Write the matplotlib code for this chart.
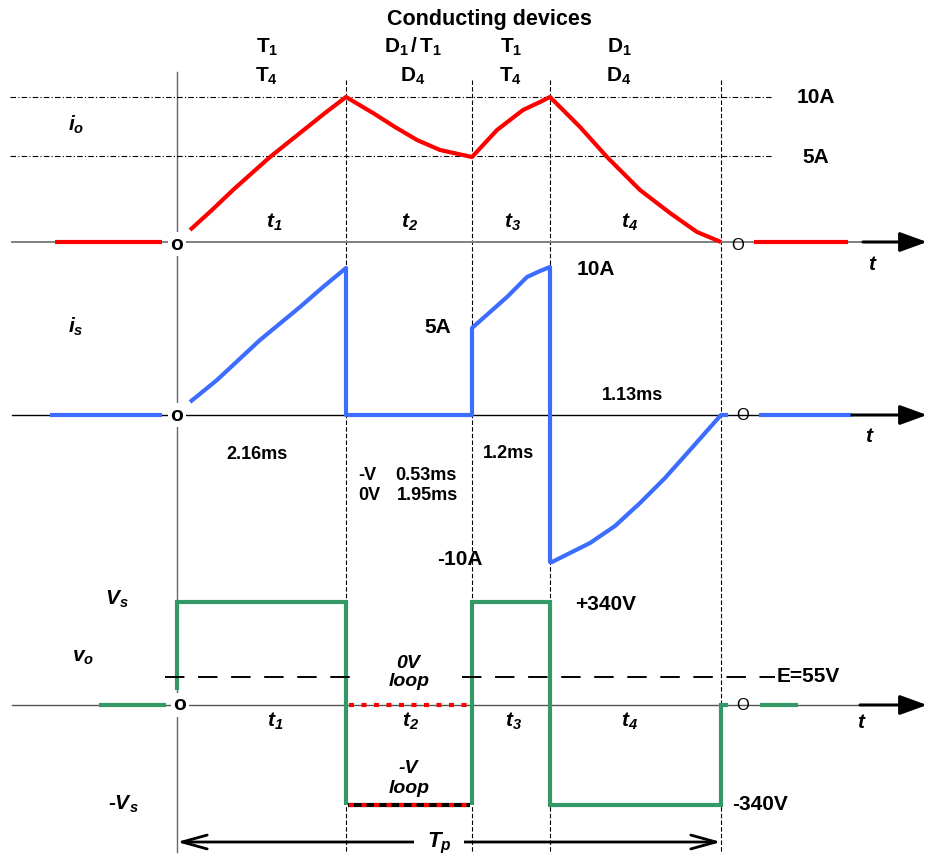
import matplotlib

matplotlib.use("Agg")
import matplotlib.pyplot as plt

plt.rcParams["font.family"] = ["Liberation Sans", "DejaVu Sans"]
plt.rcParams["mathtext.fontset"] = "custom"
plt.rcParams["mathtext.rm"] = "Liberation Sans"
plt.rcParams["mathtext.bf"] = "Liberation Sans:bold"
plt.rcParams["mathtext.it"] = "Liberation Sans:italic"
plt.rcParams["mathtext.bfit"] = "Liberation Sans:italic:bold"

# drawing is schematic: everything is in drawing units (x = time axis, y = down)
t_sw = [177, 346, 472, 550, 721]          # start, end of t1, t2, t3, t4
axis_y = {"io": 242, "is": 415, "vo": 705}
ref_io = [97, 156]                        # 10A and 5A reference levels

# output current io
io_x = [190, 212, 233, 252, 270, 300, 325, 346, 373, 395, 417, 440, 472,
        497, 523, 540, 550, 580, 607, 640, 670, 697, 721]
io_y = [230, 210, 190, 173, 157, 133, 113, 97, 113, 127, 140, 150, 157,
        130, 110, 102, 97, 127, 157, 190, 213, 232, 242]

# supply current is
is_x = [190, 217, 260, 300, 323, 346, 346, 472, 472, 507, 527, 540, 550,
        550, 552, 590, 615, 640, 665, 690, 721, 728]
is_y = [402, 380, 340, 307, 287, 268, 415, 415, 328, 297, 277, 271, 267,
        562, 562, 543, 526, 503, 478, 450, 415, 415]

# output voltage vo (+Vs = 602, -Vs = 805, 0 = 705)
vo_a_x = [177, 177, 346, 346]
vo_a_y = [690, 602, 602, 805]
vo_b_x = [472, 472, 550, 550, 721, 721, 728]
vo_b_y = [805, 602, 602, 805, 805, 705, 705]
loop_y = [705, 805]                        # 0V loop and -V loop during t2
e_level = 677                              # E = 55V

# zero-level lead-in / lead-out segments
lead = {"io": ([55, 162], [754, 848]), "is": ([50, 162], [759, 852]), "vo": ([99, 166], [760, 798])}

RED, BLUE, GREEN = "#ff0000", "#3d6dff", "#349966"

fig = plt.figure(figsize=(9.29, 8.56), dpi=100)
ax = fig.add_axes([0, 0, 1, 1])
ax.set_xlim(0, 929)
ax.set_ylim(856, 0)
ax.axis("off")

# time grid
ax.plot([t_sw[0], t_sw[0]], [72, 852], color="#666666", lw=1)
for x in t_sw[1:]:
    ax.plot([x, x], [80, 852], color="black", lw=0.8, ls=(0, (4, 2)))
for y in ref_io:
    ax.plot([10, 773], [y, y], color="black", lw=0.8, ls=(0, (5, 2, 1, 2)))

# time axes with arrows
axis_end = {"io": 863, "is": 852, "vo": 860}
axis_col = {"io": "#808080", "is": "black", "vo": "#555555"}
for key, y in axis_y.items():
    ax.plot([12, axis_end[key]], [y, y], color=axis_col[key], lw=1.4 if key == "io" else 1)
    ax.annotate("", xy=(927, y), xytext=(axis_end[key], y),
                arrowprops=dict(arrowstyle="-|>,head_length=1.1,head_width=0.4",
                                color="black", lw=2.2, mutation_scale=15,
                                shrinkA=0, shrinkB=0))

# waveforms
for key, col in (("io", RED), ("is", BLUE), ("vo", GREEN)):
    for seg in lead[key]:
        ax.plot(seg, [axis_y[key]] * 2, color=col, lw=3, solid_capstyle="butt")
ax.plot(io_x, io_y, color=RED, lw=3, solid_capstyle="butt", solid_joinstyle="round")
ax.plot(is_x, is_y, color=BLUE, lw=3, solid_capstyle="butt", solid_joinstyle="round")
ax.plot(vo_a_x, vo_a_y, color=GREEN, lw=3, solid_capstyle="butt", solid_joinstyle="miter")
ax.plot(vo_b_x, vo_b_y, color=GREEN, lw=3, solid_capstyle="butt", solid_joinstyle="miter")
ax.plot([t_sw[1] + 2, t_sw[2] - 2], [loop_y[1]] * 2, color="black", lw=3, solid_capstyle="butt")
for y in loop_y:
    ax.plot([t_sw[1] + 3, t_sw[2] - 2], [y, y], color=RED, lw=3, ls=(0, (1.2, 1.8)))

# E = 55V dashed level
ax.plot([165, 355], [e_level] * 2, color="black", lw=1.4, ls=(0, (10, 7)))
ax.plot([462, 775], [e_level] * 2, color="black", lw=1.4, ls=(0, (10, 7)))

# period arrow Tp
ax.annotate("", xy=(t_sw[0], 842), xytext=(t_sw[-1], 842),
            arrowprops=dict(arrowstyle="<->,head_length=0.9,head_width=0.25",
                            color="black", lw=2, mutation_scale=20, shrinkA=0, shrinkB=0))


def txt(x, y, s, size=15, ha="center", va="baseline", **kw):
    ax.text(x, y, s, fontsize=size, ha=ha, va=va, fontweight="bold", **kw)


white = dict(facecolor="white", edgecolor="none", pad=2)

# header
txt(489, 25, "Conducting devices", size=15.5)
for x, top, bottom in ((267, r"$\mathbf{T_1}$", r"$\mathbf{T_4}$"),
                       (413, r"$\mathbf{D_1\,/\,T_1}$", r"$\mathbf{D_4}$"),
                       (511, r"$\mathbf{T_1}$", r"$\mathbf{T_4}$"),
                       (619, r"$\mathbf{D_1}$", r"$\mathbf{D_4}$")):
    txt(x, 53, top, size=15)
    txt(x, 82, bottom, size=15)

# signal names
txt(68, 131, r"$\mathbfit{i_o}$", ha="left")
txt(68, 333, r"$\mathbfit{i_s}$", ha="left")
txt(105, 605, r"$\mathbfit{V_s}$", ha="left")
txt(72, 662, r"$\mathbfit{v_o}$", ha="left")
txt(108, 810, r"-$\mathbfit{V_s}$", ha="left", style="italic")

# interval names
for x, s in zip([274, 410, 513, 630], ["t_1", "t_2", "t_3", "t_4"]):
    txt(x, 228, rf"$\mathbfit{{{s}}}$")
for x, s in zip([275, 411, 514, 630], ["t_1", "t_2", "t_3", "t_4"]):
    txt(x, 727, rf"$\mathbfit{{{s}}}$")
for x, y in ((873, 270), (870, 442), (862, 728)):
    txt(x, y, r"$\mathbfit{t}$")

# origin marks
for x, y in ((177, 244), (177, 415), (180, 705)):
    ax.text(x, y, "o", fontsize=15, fontweight="bold", ha="center", va="center", bbox=white)
for x, y in ((738, 245), (743, 415), (743, 705)):
    ax.text(x, y, "O", fontsize=12, ha="center", va="center")

# level labels
txt(816, 103, "10A")
txt(816, 163, "5A")
txt(596, 275, "10A")
txt(438, 333, "5A")
txt(460, 565, "-10A")
txt(575, 610, "+340V", ha="left")
txt(732, 810, "-340V", ha="left")
txt(777, 682, "E=55V", ha="left")

# durations
txt(633, 400, "1.13ms", size=13)
txt(257, 459, "2.16ms", size=13)
txt(509, 458, "1.2ms", size=13)
txt(358, 480, "-V", size=13, ha="left")
txt(395, 480, "0.53ms", size=13, ha="left")
txt(358, 500, "0V", size=13, ha="left")
txt(397, 500, "1.95ms", size=13, ha="left")

# loop notes
ax.text(408, 668, "0V", fontsize=14, fontweight="bold", style="italic", ha="center")
ax.text(409, 686, "loop", fontsize=14, fontweight="bold", style="italic", ha="center")
ax.text(408, 773, "-V", fontsize=14, fontweight="bold", style="italic", ha="center")
ax.text(409, 793, "loop", fontsize=14, fontweight="bold", style="italic", ha="center")

ax.text(439, 843, r"$\mathbfit{T_p}$", fontsize=16, ha="center", va="center",
        bbox=dict(facecolor="white", edgecolor="none", pad=9))

fig.savefig("out.png", dpi=100)
